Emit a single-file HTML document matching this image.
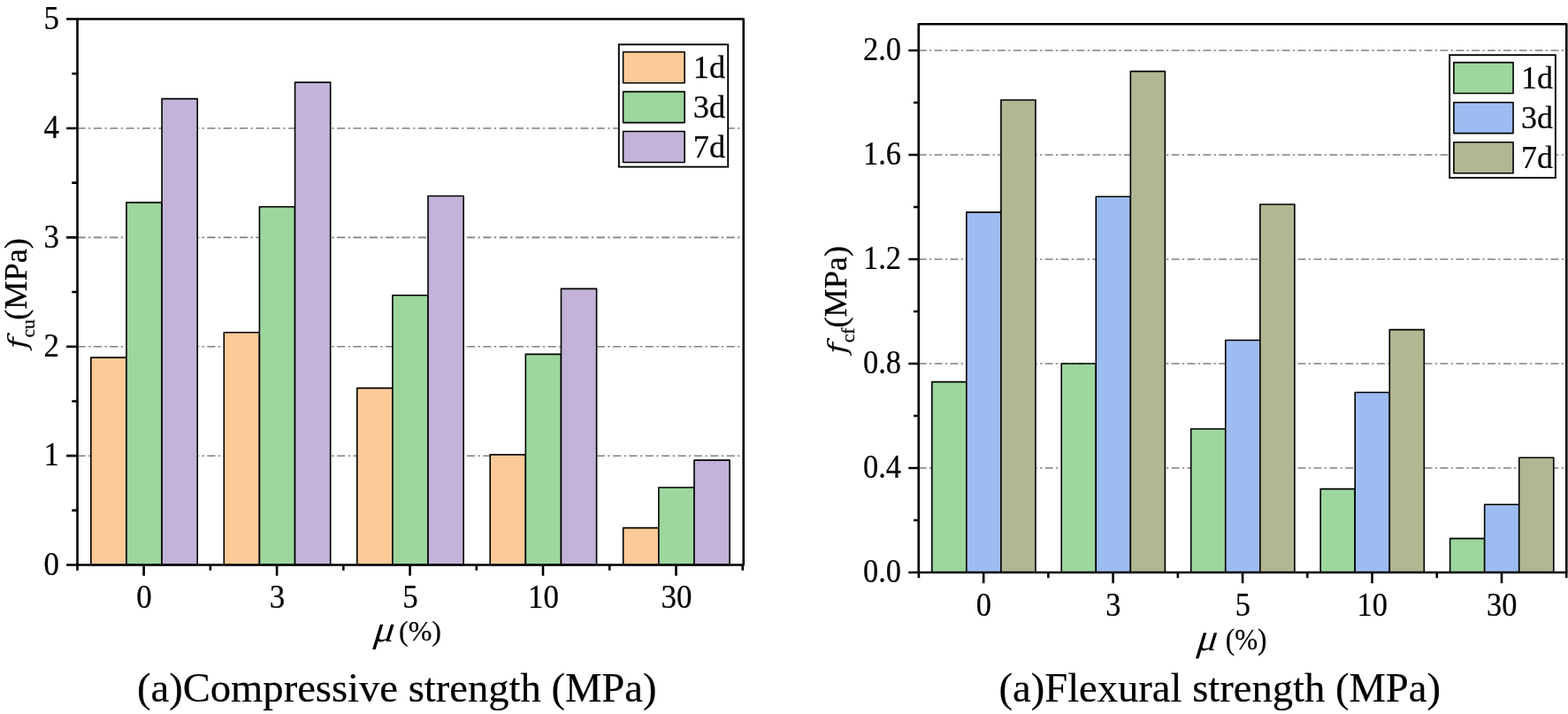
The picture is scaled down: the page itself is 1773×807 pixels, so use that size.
<!DOCTYPE html>
<html lang="en">
<head>
<meta charset="utf-8">
<title>Compressive and flexural strength</title>
<style>
html,body{margin:0;padding:0;background:#fff;}
body{width:1773px;height:807px;overflow:hidden;}
svg{display:block;}
text{font-family:"Liberation Serif","DejaVu Serif",serif;fill:#000;stroke:#000;stroke-width:0.25px;stroke-linejoin:round;}
.tk{font-size:37.5px;}
.cap{font-size:46.6px;stroke-width:0.2px;}
.lg{font-size:36.3px;}
.fi{font-family:"DejaVu Serif","Liberation Serif",serif;font-size:30px;font-style:italic;stroke-width:0;}
.mu{stroke-width:0;}
.ax{stroke:#000;stroke-width:2.6;fill:none;stroke-linecap:butt;stroke-linejoin:round;}
.gr{stroke:#808080;stroke-width:1.55;fill:none;}
.bar{stroke:#000;stroke-width:1.6;stroke-linejoin:round;}
.lgb{stroke:#000;stroke-width:1.9;fill:#fff;}
</style>
</head>
<body>
<svg width="1773" height="807" viewBox="0 0 1773 807">
<rect x="0" y="0" width="1773" height="807" fill="#fff"/>
<g id="chart-l">
<line class="gr" stroke-dasharray="9.17 3.4 2.35 3.43" x1="87.5" y1="515.15" x2="837.7" y2="515.15"/>
<line class="gr" stroke-dasharray="9.17 3.4 2.35 3.43" x1="87.5" y1="391.75" x2="837.7" y2="391.75"/>
<line class="gr" stroke-dasharray="9.17 3.4 2.35 3.43" x1="87.5" y1="268.35" x2="837.7" y2="268.35"/>
<line class="gr" stroke-dasharray="9.17 3.4 2.35 3.43" x1="87.5" y1="144.95" x2="837.7" y2="144.95"/>
<rect class="bar" x="102.81" y="404.09" width="40.13" height="234.46" fill="#FCCA99"/>
<rect class="bar" x="142.94" y="228.86" width="40.13" height="409.69" fill="#9DD79D"/>
<rect class="bar" x="183.06" y="111.63" width="40.13" height="526.92" fill="#C3B3D8"/>
<rect class="bar" x="253.28" y="375.71" width="40.13" height="262.84" fill="#FCCA99"/>
<rect class="bar" x="293.41" y="233.8" width="40.13" height="404.75" fill="#9DD79D"/>
<rect class="bar" x="333.53" y="93.12" width="40.13" height="545.43" fill="#C3B3D8"/>
<rect class="bar" x="403.75" y="438.64" width="40.13" height="199.91" fill="#FCCA99"/>
<rect class="bar" x="443.88" y="333.75" width="40.13" height="304.8" fill="#9DD79D"/>
<rect class="bar" x="484" y="221.46" width="40.13" height="417.09" fill="#C3B3D8"/>
<rect class="bar" x="554.22" y="513.92" width="40.13" height="124.63" fill="#FCCA99"/>
<rect class="bar" x="594.35" y="400.39" width="40.13" height="238.16" fill="#9DD79D"/>
<rect class="bar" x="634.47" y="326.35" width="40.13" height="312.2" fill="#C3B3D8"/>
<rect class="bar" x="704.69" y="596.59" width="40.13" height="41.96" fill="#FCCA99"/>
<rect class="bar" x="744.82" y="550.94" width="40.13" height="87.61" fill="#9DD79D"/>
<rect class="bar" x="784.94" y="520.09" width="40.13" height="118.46" fill="#C3B3D8"/>
<rect class="ax" x="87.5" y="21.55" width="753.2" height="617"/>
<path class="ax" d="M75.1 638.55H87.5 M75.1 515.15H87.5 M75.1 391.75H87.5 M75.1 268.35H87.5 M75.1 144.95H87.5 M75.1 21.55H87.5 M81.3 576.85H87.5 M81.3 453.45H87.5 M81.3 330.05H87.5 M81.3 206.65H87.5 M81.3 83.25H87.5 M162.6 638.55V650.75 M313.07 638.55V650.75 M463.54 638.55V650.75 M614.01 638.55V650.75 M764.48 638.55V650.75 M87.5 638.55V644.75 M237.84 638.55V644.75 M388.31 638.55V644.75 M538.77 638.55V644.75 M689.25 638.55V644.75 M839.72 638.55V644.75"/>
<text class="tk" text-anchor="end" transform="translate(67 649.75) scale(0.93 1)">0</text>
<text class="tk" text-anchor="end" transform="translate(67 526.35) scale(0.93 1)">1</text>
<text class="tk" text-anchor="end" transform="translate(67 402.95) scale(0.93 1)">2</text>
<text class="tk" text-anchor="end" transform="translate(67 279.55) scale(0.93 1)">3</text>
<text class="tk" text-anchor="end" transform="translate(67 156.15) scale(0.93 1)">4</text>
<text class="tk" text-anchor="end" transform="translate(67 32.75) scale(0.93 1)">5</text>
<text class="tk" text-anchor="middle" transform="translate(163 686.95) scale(0.93 1)">0</text>
<text class="tk" text-anchor="middle" transform="translate(313.47 686.95) scale(0.93 1)">3</text>
<text class="tk" text-anchor="middle" transform="translate(463.94 686.95) scale(0.93 1)">5</text>
<text class="tk" text-anchor="middle" transform="translate(614.41 686.95) scale(0.93 1)">10</text>
<text class="tk" text-anchor="middle" transform="translate(764.88 686.95) scale(0.93 1)">30</text>
<rect class="lgb" x="699.8" y="50.3" width="123.4" height="138.3"/>
<rect class="bar" x="704.6" y="58.7" width="69.5" height="35" fill="#FCCA99"/>
<text class="lg" transform="translate(783.8 87.7) scale(1 1)">1d</text>
<rect class="bar" x="704.6" y="103.6" width="69.5" height="35" fill="#9DD79D"/>
<text class="lg" transform="translate(783.8 132.7) scale(1 1)">3d</text>
<rect class="bar" x="704.6" y="148.5" width="69.5" height="35" fill="#C3B3D8"/>
<text class="lg" transform="translate(783.8 177.7) scale(1 1)">7d</text>
<g transform="translate(30.3 0) rotate(-90)" font-size="36.2"><text transform="translate(-394.3 0) scale(1.18 1)" class="fi">f</text><text x="-381.6" y="8.7" font-size="21.6">cu</text><text x="-361.7" y="0">(MPa)</text></g>
<text class="mu" font-size="42" transform="translate(420.2 724.8) skewX(-17) scale(1.06 1)">μ</text>
<text font-size="32" transform="translate(451 724.4) scale(1 1)">(%)</text>
<text class="cap" x="155" y="792.8">(a)Compressive strength (MPa)</text>
</g>
<g id="chart-r">
<line class="gr" stroke-dasharray="8.93 3.3 2.3 3.34" x1="1038.7" y1="529" x2="1768.3" y2="529"/>
<line class="gr" stroke-dasharray="8.93 3.3 2.3 3.34" x1="1038.7" y1="411" x2="1768.3" y2="411"/>
<line class="gr" stroke-dasharray="8.93 3.3 2.3 3.34" x1="1038.7" y1="293" x2="1768.3" y2="293"/>
<line class="gr" stroke-dasharray="8.93 3.3 2.3 3.34" x1="1038.7" y1="175" x2="1768.3" y2="175"/>
<line class="gr" stroke-dasharray="8.93 3.3 2.3 3.34" x1="1038.7" y1="57" x2="1768.3" y2="57"/>
<rect class="bar" x="1053.77" y="431.65" width="39.06" height="215.35" fill="#9DD79D"/>
<rect class="bar" x="1092.82" y="239.9" width="39.06" height="407.1" fill="#9DBCF1"/>
<rect class="bar" x="1131.88" y="113.05" width="39.06" height="533.95" fill="#B1B693"/>
<rect class="bar" x="1200.23" y="411" width="39.06" height="236" fill="#9DD79D"/>
<rect class="bar" x="1239.28" y="222.2" width="39.06" height="424.8" fill="#9DBCF1"/>
<rect class="bar" x="1278.34" y="80.6" width="39.06" height="566.4" fill="#B1B693"/>
<rect class="bar" x="1346.69" y="484.75" width="39.06" height="162.25" fill="#9DD79D"/>
<rect class="bar" x="1385.74" y="384.45" width="39.06" height="262.55" fill="#9DBCF1"/>
<rect class="bar" x="1424.8" y="231.05" width="39.06" height="415.95" fill="#B1B693"/>
<rect class="bar" x="1493.15" y="552.6" width="39.06" height="94.4" fill="#9DD79D"/>
<rect class="bar" x="1532.2" y="443.45" width="39.06" height="203.55" fill="#9DBCF1"/>
<rect class="bar" x="1571.26" y="372.65" width="39.06" height="274.35" fill="#B1B693"/>
<rect class="bar" x="1639.61" y="608.65" width="39.06" height="38.35" fill="#9DD79D"/>
<rect class="bar" x="1678.66" y="570.3" width="39.06" height="76.7" fill="#9DBCF1"/>
<rect class="bar" x="1717.72" y="517.2" width="39.06" height="129.8" fill="#B1B693"/>
<rect class="ax" x="1038.7" y="27.25" width="732.6" height="619.75"/>
<path class="ax" d="M1027.3 647H1038.7 M1027.3 529H1038.7 M1027.3 411H1038.7 M1027.3 293H1038.7 M1027.3 175H1038.7 M1027.3 57H1038.7 M1033 588H1038.7 M1033 470H1038.7 M1033 352H1038.7 M1033 234H1038.7 M1033 116H1038.7 M1112.15 647V659.2 M1258.61 647V659.2 M1405.07 647V659.2 M1551.53 647V659.2 M1697.99 647V659.2 M1038.92 647V653.2 M1185.38 647V653.2 M1331.84 647V653.2 M1478.3 647V653.2 M1624.76 647V653.2 M1771.22 647V653.2"/>
<text class="tk" text-anchor="end" transform="translate(1018.9 658) scale(0.915 1)">0.0</text>
<text class="tk" text-anchor="end" transform="translate(1018.9 540) scale(0.915 1)">0.4</text>
<text class="tk" text-anchor="end" transform="translate(1018.9 422) scale(0.915 1)">0.8</text>
<text class="tk" text-anchor="end" transform="translate(1018.9 304) scale(0.915 1)">1.2</text>
<text class="tk" text-anchor="end" transform="translate(1018.9 186) scale(0.915 1)">1.6</text>
<text class="tk" text-anchor="end" transform="translate(1018.9 68) scale(0.915 1)">2.0</text>
<text class="tk" text-anchor="middle" transform="translate(1112.35 695.9) scale(0.915 1)">0</text>
<text class="tk" text-anchor="middle" transform="translate(1258.81 695.9) scale(0.915 1)">3</text>
<text class="tk" text-anchor="middle" transform="translate(1405.27 695.9) scale(0.915 1)">5</text>
<text class="tk" text-anchor="middle" transform="translate(1551.73 695.9) scale(0.915 1)">10</text>
<text class="tk" text-anchor="middle" transform="translate(1698.19 695.9) scale(0.915 1)">30</text>
<rect class="lgb" x="1639.1" y="62.2" width="119.75" height="138.7"/>
<rect class="bar" x="1643.85" y="70.6" width="67.2" height="34.9" fill="#9DD79D"/>
<text class="lg" transform="translate(1720.1 99.8) scale(0.99 1)">1d</text>
<rect class="bar" x="1643.85" y="115.7" width="67.2" height="34.9" fill="#9DBCF1"/>
<text class="lg" transform="translate(1720.1 144.9) scale(0.99 1)">3d</text>
<rect class="bar" x="1643.85" y="160.8" width="67.2" height="34.9" fill="#B1B693"/>
<text class="lg" transform="translate(1720.1 190) scale(0.99 1)">7d</text>
<g transform="translate(957 0) rotate(-90)" font-size="36.2"><text transform="translate(-400 0) scale(1.18 1)" class="fi">f</text><text x="-387.3" y="8.7" font-size="21.6">cf</text><text x="-370.5" y="0">(MPa)</text></g>
<text class="mu" font-size="42" transform="translate(1351.3 734.7) skewX(-17) scale(1.03 1.02)">μ</text>
<text font-size="32" transform="translate(1385.8 733.5) scale(0.972 1.02)">(%)</text>
<text class="cap" x="1129.5" y="792.5">(a)Flexural strength (MPa)</text>
</g>
</svg>
</body>
</html>
